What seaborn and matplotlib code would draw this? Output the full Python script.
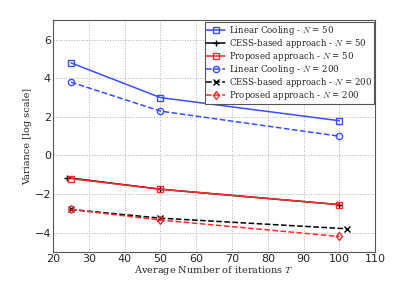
import numpy as np
import pandas as pd
import matplotlib
matplotlib.use('Agg')
import matplotlib.pyplot as plt
import seaborn as sns

iters_lin = [25, 50, 100]
lin50 = [4.8, 3.0, 1.8]
lin200 = [3.8, 2.3, 1.0]
iters_cess50 = [24, 50, 100]
cess50 = [-1.15, -1.75, -2.55]
prop50 = [-1.2, -1.75, -2.55]
iters_cess200 = [25, 50, 102]
cess200 = [-2.8, -3.25, -3.8]
prop200 = [-2.8, -3.35, -4.2]

sns.set_style('white')
plt.rcParams['mathtext.fontset'] = 'cm'

fig = plt.figure(figsize=(4.15, 2.84), dpi=100)
ax = fig.add_axes([0.128, 0.113, 0.776, 0.815])

blue = '#3a4dff'
red = '#ff2a2a'
series = [
    (iters_lin, lin50, blue, '-', 's', r'Linear Cooling - $N$ = 50'),
    (iters_cess50, cess50, 'black', '-', '+', r'CESS-based approach - $N$ = 50'),
    (iters_lin, prop50, red, '-', 's', r'Proposed approach - $N$ = 50'),
    (iters_lin, lin200, blue, '--', 'o', r'Linear Cooling - $N$ = 200'),
    (iters_cess200, cess200, 'black', '--', 'x', r'CESS-based approach - $N$ = 200'),
    (iters_lin, prop200, red, '--', 'd', r'Proposed approach - $N$ = 200'),
]
for x, y, c, ls, m, lab in series:
    df = pd.DataFrame({'x': x, 'y': y})
    sns.lineplot(data=df, x='x', y='y', ax=ax, color=c, linestyle=ls, marker=m,
                 markersize=4.5, markerfacecolor='none', markeredgecolor=c,
                 markeredgewidth=1.0, linewidth=1.1, label=lab)

ax.set_xlim(20, 110)
ax.set_ylim(-5, 7)
ax.set_xticks(range(20, 111, 10))
ax.set_yticks([-4, -2, 0, 2, 4, 6])
ax.grid(True, linestyle=':', color='#b0b0b0', linewidth=0.7)
ax.tick_params(labelsize=8, length=2, direction='in', pad=1.5)
for s in ax.spines.values():
    s.set_color('#555555')
    s.set_linewidth(0.8)
ax.set_xlabel(r'Average Number of iterations $T$', family='DejaVu Serif', fontsize=7, labelpad=0)
ax.set_ylabel('Variance [log scale]', family='DejaVu Serif', fontsize=7, labelpad=2)
leg = ax.legend(loc='upper right', bbox_to_anchor=(1.0, 0.995), prop={'family': 'DejaVu Serif', 'size': 6.2},
                fancybox=False, edgecolor='#555555', framealpha=1, borderpad=0.2,
                labelspacing=0.0, handlelength=2.2, handletextpad=0.5, borderaxespad=0.1)
leg.get_frame().set_linewidth(0.8)

fig.savefig('out.png', dpi=100)
